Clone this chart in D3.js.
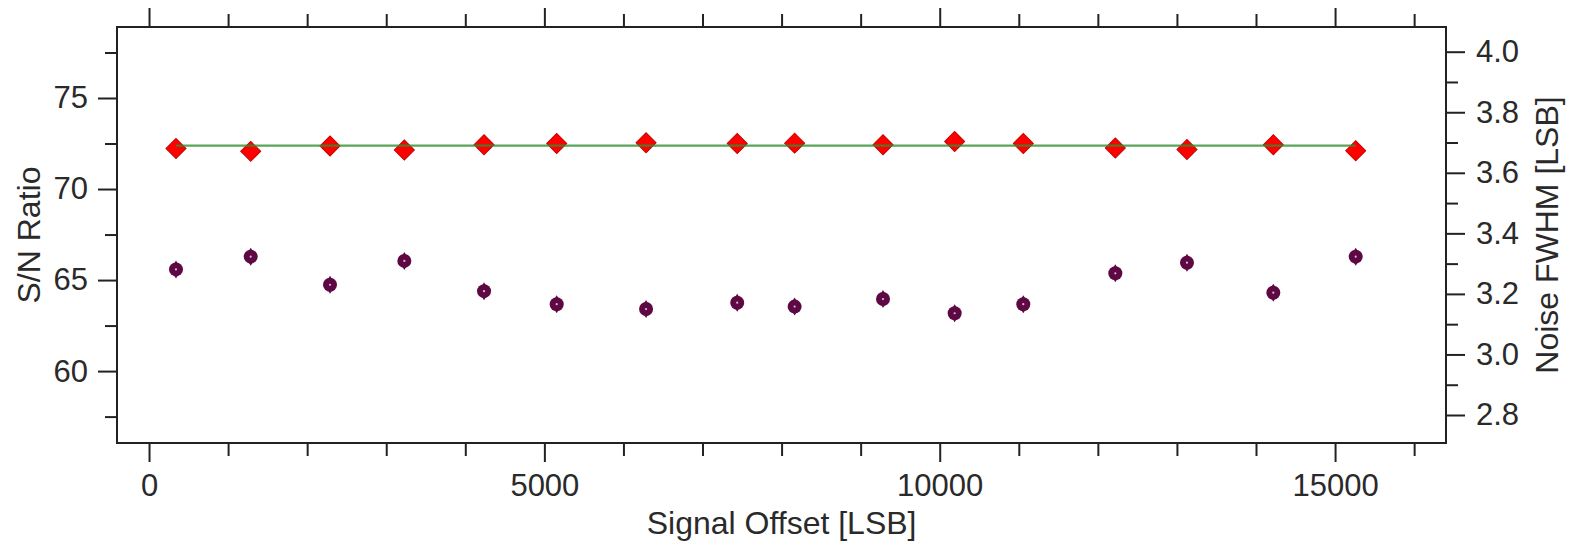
<!DOCTYPE html>
<html>
<head>
<meta charset="utf-8">
<script src="https://cdn.jsdelivr.net/npm/d3@7"></script>
<style>
  body { margin: 0; background: #fff; }
  text { font-family: "Liberation Sans", Arial, sans-serif; fill: #2a2a2a; }
</style>
</head>
<body>
<div class="canvas"></div>
<script>
const dimension = {'width': 1575, 'height': 543};
const margin = {'left': 117, 'top': 27, 'right': 129, 'bottom': 100};

// data
const signalOffset = [341, 1286, 2289, 3229, 4237, 5156, 6286, 7439, 8165, 9283, 10189, 11057, 12221, 13127, 14219, 15261];
const snRatio = [72.23, 72.07, 72.36, 72.14, 72.43, 72.50, 72.54, 72.50, 72.52, 72.43, 72.61, 72.50, 72.25, 72.17, 72.43, 72.10];
const noiseFwhm = [3.281, 3.323, 3.230, 3.309, 3.209, 3.166, 3.150, 3.171, 3.158, 3.183, 3.136, 3.166, 3.268, 3.303, 3.204, 3.323];
const fitLevel = [72.38, 72.38];

const xMajorTicks = [0, 5000, 10000, 15000];
const xMinorTicks = [1000, 2000, 3000, 4000, 6000, 7000, 8000, 9000, 11000, 12000, 13000, 14000, 16000];
const leftMajorTicks = [60, 65, 70, 75];
const leftMinorTicks = [57.5, 62.5, 67.5, 72.5, 77.5];
const rightMajorTicks = [2.8, 3.0, 3.2, 3.4, 3.6, 3.8, 4.0];
const rightMinorTicks = [2.9, 3.1, 3.3, 3.5, 3.7, 3.9];

const w = dimension.width - margin.left - margin.right;
const h = dimension.height - margin.top - margin.bottom;

const svg = d3.select('.canvas')
    .append('svg')
    .attr('width', dimension.width)
    .attr('height', dimension.height);

const graph = svg.append('g')
    .attr('transform', `translate(${margin.left},${margin.top})`);

// scales
const x = d3.scaleLinear().domain([-405, 16403]).range([0, w]);
const yLeft = d3.scaleLinear().domain([56.05, 78.9]).range([h, 0]);
const yRight = d3.scaleLinear().domain([2.7075, 4.0816]).range([h, 0]);

// axes: major + minor, drawn with d3 axis generators
const axisStyle = g => {
    g.select('.domain').remove();
    g.selectAll('line').attr('stroke', '#222').attr('stroke-width', 2);
    g.selectAll('text').attr('font-size', 31).style('fill', '#2a2a2a');
};

graph.append('g').attr('transform', `translate(0,${h})`)
    .call(d3.axisBottom(x).tickValues(xMajorTicks).tickSize(19).tickPadding(12).tickFormat(d3.format('d')))
    .call(axisStyle);
graph.append('g').attr('transform', `translate(0,${h})`)
    .call(d3.axisBottom(x).tickValues(xMinorTicks).tickSize(13).tickFormat(''))
    .call(axisStyle);
graph.append('g')
    .call(d3.axisTop(x).tickValues(xMajorTicks).tickSize(19).tickFormat(''))
    .call(axisStyle);
graph.append('g')
    .call(d3.axisTop(x).tickValues(xMinorTicks).tickSize(13).tickFormat(''))
    .call(axisStyle);

graph.append('g')
    .call(d3.axisLeft(yLeft).tickValues(leftMajorTicks).tickSize(19).tickPadding(10))
    .call(axisStyle);
graph.append('g')
    .call(d3.axisLeft(yLeft).tickValues(leftMinorTicks).tickSize(12).tickFormat(''))
    .call(axisStyle);

graph.append('g').attr('transform', `translate(${w},0)`)
    .call(d3.axisRight(yRight).tickValues(rightMajorTicks).tickSize(19).tickPadding(11).tickFormat(d3.format('.1f')))
    .call(axisStyle);
graph.append('g').attr('transform', `translate(${w},0)`)
    .call(d3.axisRight(yRight).tickValues(rightMinorTicks).tickSize(12).tickFormat(''))
    .call(axisStyle);

// frame
graph.append('rect')
    .attr('width', w).attr('height', h)
    .attr('fill', 'none').attr('stroke', '#222').attr('stroke-width', 2);

// axis titles
svg.append('text')
    .attr('x', margin.left + x(8000)).attr('y', 534)
    .attr('text-anchor', 'middle').attr('font-size', 32)
    .text('Signal Offset [LSB]');
svg.append('text')
    .attr('transform', `translate(40,${margin.top + h / 2}) rotate(-90)`)
    .attr('text-anchor', 'middle').attr('font-size', 32)
    .text('S/N Ratio');
svg.append('text')
    .attr('transform', `translate(1558,${margin.top + h / 2}) rotate(-90)`)
    .attr('text-anchor', 'middle').attr('font-size', 32)
    .text('Noise FWHM [LSB]');

// noise markers (right axis)
const noiseData = signalOffset.map((d, i) => ({x: d, y: noiseFwhm[i]}));
const noiseG = graph.selectAll('g.noise').data(noiseData).enter().append('g')
    .attr('class', 'noise')
    .attr('transform', d => `translate(${x(d.x)},${yRight(d.y)})`);
noiseG.append('circle').attr('r', 7).attr('fill', '#5e0844');
noiseG.append('path').attr('d', 'M0,-9L5.5,0L0,9L-5.5,0Z').attr('fill', '#5e0844');
noiseG.append('circle').attr('r', 1.1).attr('fill', '#d9b8cc');

// S/N markers (left axis)
const snData = signalOffset.map((d, i) => ({x: d, y: snRatio[i]}));
graph.selectAll('path.sn').data(snData).enter().append('path')
    .attr('class', 'sn')
    .attr('d', d3.symbol(d3.symbolSquare, 200))
    .attr('transform', d => `translate(${x(d.x)},${yLeft(d.y)}) rotate(45)`)
    .attr('fill', '#ff0000')
    .attr('stroke', '#c80000').attr('stroke-width', 1);

// fit line
const fitData = [signalOffset[0], signalOffset[signalOffset.length - 1]].map((d, i) => ({x: d, y: fitLevel[i]}));
graph.append('path')
    .datum(fitData)
    .attr('d', d3.line().x(d => x(d.x)).y(d => yLeft(d.y)))
    .attr('fill', 'none')
    .attr('stroke', '#2f8f2f').attr('stroke-opacity', 0.8).attr('stroke-width', 2.2);
</script>
</body>
</html>
